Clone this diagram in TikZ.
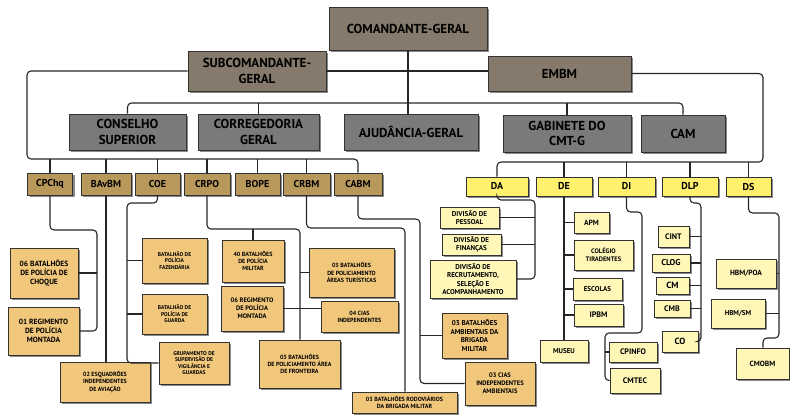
\documentclass[tikz,border=0pt]{standalone}
\usepackage{fontspec}
\setmainfont{PT Sans}
\usetikzlibrary{shadows}

\definecolor{chefe}{HTML}{857A6B}
\definecolor{orgao}{HTML}{7A7A7A}
\definecolor{comando}{HTML}{B9985C}
\definecolor{unidade}{HTML}{F1C77C}
\definecolor{diretoria}{HTML}{FFF06E}
\definecolor{secao}{HTML}{FFF7B8}

\newcommand\boxfont[1]{\bfseries\fontsize{#1}{\dimexpr #1pt*6/5\relax}\selectfont}

\tikzset{
	box/.style={draw=black!80, line width=0.8pt, align=center, inner sep=1pt,
		drop shadow={shadow xshift=2pt, shadow yshift=-2pt, fill=black!65, opacity=0.7}},
	chefebox/.style={box, fill=chefe, font=\boxfont{13}},
	orgaobox/.style={box, fill=orgao, font=\boxfont{13}},
	cmdbox/.style={box, fill=comando, minimum height=22, font=\boxfont{10}},
	dirbox/.style={box, fill=diretoria, minimum height=19, font=\boxfont{10}},
	unitbox/.style={box, fill=unidade, font=\boxfont{6}},
	secbox/.style={box, fill=secao, font=\boxfont{7}},
	link/.style={line width=1.1pt, black!85, rounded corners=4pt},
}

\begin{document}
\begin{tikzpicture}[x=1pt,y=-1pt]
	\useasboundingbox (0,0) rectangle (790,420);

	% chefia
	\node[chefebox, minimum width=158, minimum height=43] (cg) at (408,28.5) {COMANDANTE-GERAL};
	\node[chefebox, minimum width=138, minimum height=40] (sub) at (257,71) {SUBCOMANDANTE-\\GERAL};
	\node[chefebox, minimum width=143, minimum height=35] (embm) at (559.5,73.5) {EMBM};

	% orgaos
	\node[orgaobox, minimum width=117, minimum height=36] (cons) at (127.5,132) {CONSELHO\\SUPERIOR};
	\node[orgaobox, minimum width=121, minimum height=36] (corr) at (258.5,132) {CORREGEDORIA\\GERAL};
	\node[orgaobox, minimum width=134, minimum height=36] (ajud) at (411,132) {AJUDÂNCIA-GERAL};
	\node[orgaobox, minimum width=128, minimum height=37] (gab) at (567,133.5) {GABINETE DO\\CMT-G};
	\node[orgaobox, minimum width=84, minimum height=37] (cam) at (683,133.5) {CAM};

	% comandos
	\node[cmdbox, minimum width=45] (cpchq) at (50,184) {CPChq};
	\node[cmdbox, minimum width=50] (bavbm) at (106,184) {BAvBM};
	\node[cmdbox, minimum width=45] (coe) at (157.5,184) {COE};
	\node[cmdbox, minimum width=46] (crpo) at (207,184) {CRPO};
	\node[cmdbox, minimum width=45] (bope) at (257.5,184) {BOPE};
	\node[cmdbox, minimum width=47] (crbm) at (306.5,184) {CRBM};
	\node[cmdbox, minimum width=48] (cabm) at (358,184) {CABM};

	% diretorias
	\node[dirbox, minimum width=62] (da) at (497,186.5) {DA};
	\node[dirbox, minimum width=56] (de) at (564,186.5) {DE};
	\node[dirbox, minimum width=57] (di) at (626.5,186.5) {DI};
	\node[dirbox, minimum width=56] (dlp) at (690,186.5) {DLP};
	\node[dirbox, minimum width=45] (ds) at (748.5,186.5) {DS};

	% unidades
	\node[unitbox, minimum width=68, minimum height=50, font=\boxfont{7.5}] (choque) at (44,273) {06 BATALHÕES\\DE POLÍCIA DE\\CHOQUE};
	\node[unitbox, minimum width=71, minimum height=48, font=\boxfont{7.5}] (reg01) at (43.5,331) {01 REGIMENTO\\DE POLÍCIA\\MONTADA};
	\node[unitbox, minimum width=90, minimum height=40] (esq) at (105,382) {02 ESQUADRÕES\\INDEPENDENTES\\DE AVIAÇÃO};
	\node[unitbox, minimum width=65, minimum height=45, font=\boxfont{5.5}] (fazend) at (174.5,260.5) {BATALHÃO DE\\POLÍCIA\\FAZENDÁRIA};
	\node[unitbox, minimum width=65, minimum height=40, font=\boxfont{5.5}] (guarda) at (174.5,314) {BATALHÃO DE\\POLÍCIA DE\\GUARDA};
	\node[unitbox, minimum width=70, minimum height=42, font=\boxfont{5.5}] (grup) at (194,363) {GRUPAMENTO DE\\SUPERVISÃO DE\\VIGILÂNCIA E\\GUARDAS};
	\node[unitbox, minimum width=62, minimum height=42] (b40) at (253,261) {40 BATALHÕES\\DE POLÍCIA\\MILITAR};
	\node[unitbox, minimum width=62, minimum height=45, font=\boxfont{6.5}] (reg06) at (252,308.5) {06 REGIMENTO\\DE POLÍCIA\\MONTADA};
	\node[unitbox, minimum width=81, minimum height=48] (front) at (299.5,364) {03 BATALHÕES\\DE POLICIAMENTO ÁREA\\DE FRONTEIRA};
	\node[unitbox, minimum width=85, minimum height=49] (turist) at (351.5,272.5) {03 BATALHÕES\\DE POLICIAMENTO\\ÁREAS TURÍSTICAS};
	\node[unitbox, minimum width=77, minimum height=31] (cias04) at (359.5,316.5) {04 CIAS\\INDEPENDENTES};
	\node[unitbox, minimum width=105, minimum height=21] (rodov) at (404.5,402.5) {03 BATALHÕES RODOVIÁRIOS\\DA BRIGADA MILITAR};
	\node[unitbox, minimum width=65, minimum height=45, font=\boxfont{7}] (amb) at (474.5,335.5) {03 BATALHÕES\\AMBIENTAIS DA\\BRIGADA\\MILITAR};
	\node[unitbox, minimum width=70, minimum height=43, font=\boxfont{6.5}] (ciasamb) at (500,383.5) {03 CIAS\\INDEPENDENTES\\AMBIENTAIS};

	% secoes das diretorias
	\node[secbox, minimum width=59, minimum height=21] (pess) at (469.5,217.5) {DIVISÃO DE\\PESSOAL};
	\node[secbox, minimum width=59, minimum height=21] (fin) at (471.5,244.5) {DIVISÃO DE\\FINANÇAS};
	\node[secbox, minimum width=86, minimum height=38] (recr) at (473,279) {DIVISÃO DE\\RECRUTAMENTO,\\SELEÇÃO E\\ACOMPANHAMENTO};
	\node[secbox, minimum width=35, minimum height=21, font=\boxfont{7.5}] (apm) at (591.5,222.5) {APM};
	\node[secbox, minimum width=59, minimum height=30, font=\boxfont{6.5}] (col) at (603.5,255) {COLÉGIO\\TIRADENTES};
	\node[secbox, minimum width=49, minimum height=22] (esc) at (597.5,289) {ESCOLAS};
	\node[secbox, minimum width=49, minimum height=22, font=\boxfont{8}] (ipbm) at (598.5,315) {IPBM};
	\node[secbox, minimum width=48, minimum height=22] (museu) at (564,351) {MUSEU};
	\node[secbox, minimum width=48, minimum height=20, font=\boxfont{8}] (cpinfo) at (633,352) {CPINFO};
	\node[secbox, minimum width=50, minimum height=25, font=\boxfont{8}] (cmtec) at (635,380.5) {CMTEC};
	\node[secbox, minimum width=31, minimum height=21, font=\boxfont{8}] (cint) at (673.5,236.5) {CINT};
	\node[secbox, minimum width=38, minimum height=18, font=\boxfont{8.5}] (clog) at (671,263) {CLOG};
	\node[secbox, minimum width=33, minimum height=17, font=\boxfont{9}] (cm) at (672.5,285.5) {CM};
	\node[secbox, minimum width=36, minimum height=17, font=\boxfont{8}] (cmb) at (672,308.5) {CMB};
	\node[secbox, minimum width=36, minimum height=21, font=\boxfont{9}] (co) at (680,341.5) {CO};
	\node[secbox, minimum width=60, minimum height=29, font=\boxfont{7.5}] (hbmpoa) at (746,273.5) {HBM/POA};
	\node[secbox, minimum width=54, minimum height=29] (hbmsm) at (738,313.5) {HBM/SM};
	\node[secbox, minimum width=53, minimum height=31, font=\boxfont{7.5}] (cmobm) at (762.5,363.5) {CMOBM};

	% ligacoes superiores
	\coordinate (lcorner) at (27,159);
	\coordinate (rcorner) at (763,162);
	\coordinate (grayrow) at (0,103);
	\draw[link] (cg.south) -- (cg.south |- ajud.north);
	\draw[link] (sub.west) -| (lcorner) -| (cabm.north);
	\draw[link] (sub.east) -- (sub.east -| embm.west);
	\draw[link] (embm.east) -| (rcorner) -| (da.north);
	\draw[link] (cons.north) |- (cam.north |- grayrow) -- (cam.north);
	\foreach \n in {corr,gab}
		\draw[link] (\n.north) -- (\n.north |- grayrow);
	\foreach \n in {cpchq,bavbm,coe,crpo,bope,crbm}
		\draw[link] (\n.north) -- (\n.north |- lcorner);
	\foreach \n in {de,di,dlp,ds}
		\draw[link] (\n.north) -- (\n.north |- rcorner);

	% ligacoes dos comandos
	\coordinate (cpj) at (97,230);
	\coordinate (coej) at (127,203);
	\coordinate (crpoj) at (300,229);
	\coordinate (crbmj) at (405,228);
	\coordinate (cabmj) at (420,219);
	\draw[link] (cpchq.south) |- (cpj) |- (reg01.east);
	\draw[link] (choque.east) -- (choque.east -| cpj);
	\draw[link] (bavbm.south) -- (bavbm.south |- esq.north);
	\draw[link] (coe.south) |- (coej) |- (grup.west);
	\draw[link] (fazend.west -| coej) -- (fazend.west);
	\draw[link] (guarda.west -| coej) -- (guarda.west);
	\draw[link] (crpo.south) |- (crpoj) -- (crpoj |- front.north);
	\draw[link] (b40.north) -- (b40.north |- crpoj);
	\draw[link] (turist.west -| crpoj) -- (turist.west);
	\draw[link] (reg06.east) -- (reg06.east -| cias04.west);
	\draw[link] (crbm.south) |- (crbmj) -- (crbmj |- rodov.north);
	\draw[link] (cabm.south) |- (cabmj) |- (ciasamb.west);
	\draw[link] (amb.west -| cabmj) -- (amb.west);

	% ligacoes das diretorias
	\coordinate (daj) at (535,200);
	\coordinate (dij) at (642,212);
	\coordinate (dij2) at (605,333);
	\coordinate (dlpj) at (701,203);
	\coordinate (dsj) at (779,213);
	\coordinate (dsj2) at (763,338);
	\draw[link] (da.south) |- (daj) |- (recr.east);
	\foreach \n in {pess,fin}
		\draw[link] (\n.east) -- (\n.east -| daj);
	\draw[link] (de.south) -- (de.south |- museu.north);
	\foreach \n in {apm,col,esc,ipbm}
		\draw[link] (\n.west -| de.south) -- (\n.west);
	\draw[link] (di.south) |- (dij) |- (dij2) |- (cmtec.west);
	\draw[link] (cpinfo.west -| dij2) -- (cpinfo.west);
	\draw[link] (dlp.south) |- (dlpj) |- (co.east);
	\foreach \n in {cint,clog,cm,cmb}
		\draw[link] (\n.east) -- (\n.east -| dlpj);
	\draw[link] (ds.south) |- (dsj) |- (dsj2) -- (dsj2 |- cmobm.north);
	\foreach \n in {hbmpoa,hbmsm}
		\draw[link] (\n.east) -- (\n.east -| dsj);
\end{tikzpicture}
\end{document}
